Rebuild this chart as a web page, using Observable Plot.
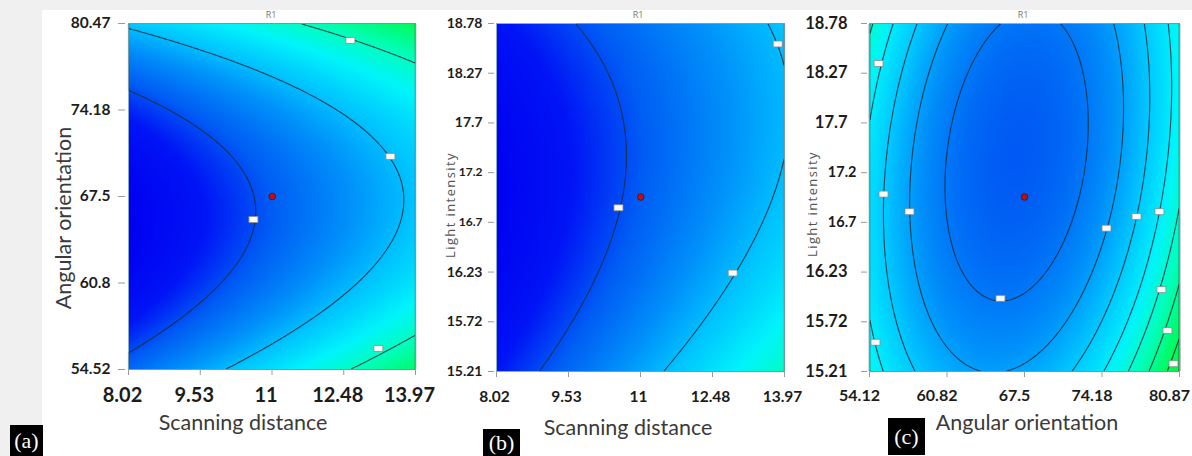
<!DOCTYPE html>
<html>
<head>
<meta charset="utf-8">
<script src="https://cdn.jsdelivr.net/npm/d3@7"></script>
<script src="https://cdn.jsdelivr.net/npm/@observablehq/plot@0.6"></script>
<style>
  html, body { margin: 0; padding: 0; }
  body { width: 1192px; height: 456px; position: relative; overflow: hidden; background: #ffffff; font-family: Lato, "Open Sans", sans-serif; }
  .bg { position: absolute; background: #f0f0f0; }
  .panel { position: absolute; top: 0; }
  .lbl { position: absolute; white-space: nowrap; text-align: center; }
  .tag { position: absolute; background: #000; color: #fff; font-family: "Liberation Serif", "DejaVu Serif", serif; font-size: 22px; display: flex; align-items: center; justify-content: center; }
</style>
</head>
<body>
<div class="bg" style="left:0;top:0;width:1192px;height:10px"></div>
<div class="bg" style="left:0;top:0;width:42px;height:456px"></div>
<div id="pa" class="panel" style="left:0px"></div>
<div id="pb" class="panel" style="left:420px"></div>
<div id="pc" class="panel" style="left:800px"></div>
<div id="texts"></div>
<script>
// ---------------- data ----------------
// axis tick labels (as printed on the chart)
const scanTicks   = ["8.02", "9.53", "11", "12.48", "13.97"];
const angleTicksA = ["54.52", "60.8", "67.5", "74.18", "80.47"];
const lightTicks  = ["15.21", "15.72", "16.23", "16.7", "17.2", "17.7", "18.27", "18.78"];
const angleTicksC = ["54.12", "60.82", "67.5", "74.18", "80.87"];
// tick labels printed in a narrower face on the light-intensity axes
const narrowLightTicks = ["16.7", "17.2"];

// quadratic response-surface model of R1 in coded units (A = scanning distance,
// B = angular orientation, C = light intensity), coefficients
const modelTerms = ["1", "A", "B", "C", "AB", "AC", "BC", "A2", "B2", "C2"];
const modelCoefs = [0.01, 0.639, 0.16, -0.16, -0.13, -0.139, -0.24, 0.004, 1.0, 0.305];

// contour levels of each panel
const levelsA = [-0.07, 0.60, 1.27];
const levelsB = [-0.07, 0.60, 1.27];
const levelsC = [0.19, 0.44, 0.69, 0.94, 1.19, 1.44, 1.69];

// design centre point of each panel
const centerA = [[11, 67.5]];
const centerB = [[11, 17.0]];
const centerC = [[67.5, 17.0]];

// contour label boxes (data coordinates)
const labelPtsA = [[12.62, 79.2], [13.45, 70.5], [10.61, 65.77], [13.20, 56.1]];
const labelPtsB = [[10.54, 16.89], [12.90, 16.22], [13.83, 18.57]];
const labelPtsC = [[54.90, 18.37], [55.33, 17.03], [57.57, 16.85], [65.42, 15.96], [74.57, 16.68],
                   [77.16, 16.80], [79.14, 16.85], [79.31, 16.05], [79.83, 15.63], [80.35, 15.29], [54.64, 15.51]];

const panelTitle = "R1";
const xTitles = ["Scanning distance", "Scanning distance", "Angular orientation"];
const yTitles = ["Angular orientation", "Light intensity", "Light intensity"];
const panelTags = ["(a)", "(b)", "(c)"];

// ---------------- helpers ----------------
function r1(A, B, C) {
  const [b0, bA, bB, bC, bAB, bAC, bBC, bAA, bBB, bCC] = modelCoefs;
  return b0 + bA * A + bB * B + bC * C + bAB * A * B + bAC * A * C + bBC * B * C + bAA * A * A + bBB * B * B + bCC * C * C;
}
const ends = (labels) => [+labels[0], +labels[labels.length - 1]];
const coded = (v, [lo, hi]) => (v - (lo + hi) / 2) / ((hi - lo) / 2);
const evenTicks = (labels) => { const [lo, hi] = ends(labels); return labels.map((_, i) => lo + i * (hi - lo) / (labels.length - 1)); };

const boxSymbol = { draw(ctx) { ctx.moveTo(-4.5, -3); ctx.lineTo(4.5, -3); ctx.lineTo(4.5, 3); ctx.lineTo(-4.5, 3); ctx.closePath(); } };

const colorScale = {
  type: "linear",
  domain: [-0.65, -0.3, 0.0, 0.35, 0.65, 1.0, 1.3, 1.65, 1.95],
  range: ["#0000f2", "#0014f6", "#005cf4", "#0090fa", "#00c4ff", "#00f4fa", "#00ffbc", "#00fa60", "#10f030"],
  interpolate: "rgb",
  clamp: true
};

function panel(o) {
  const xv = evenTicks(o.xTicks), yv = evenTicks(o.yTicks);
  const xd = ends(o.xTicks), yd = ends(o.yTicks);
  const xm = new Map(xv.map((v, i) => [v, o.xTicks[i]]));
  const ym = new Map(yv.map((v, i) => [v, o.yTicks[i]]));
  const narrow = o.narrow || [];
  const yWide = yv.filter(v => !narrow.includes(ym.get(v)));
  const yNarrow = yv.filter(v => narrow.includes(ym.get(v)));
  const value = (x, y) => o.f(coded(x, xd), coded(y, yd));
  const tickStyle = { stroke: "#9a9a9a", fill: "#1c1c1c", fontWeight: "bold", label: null };
  const marks = [
    Plot.raster({ fill: value, x1: xd[0], x2: xd[1], y1: yd[0], y2: yd[1], pixelSize: 1 }),
    Plot.contour({ value, x1: xd[0], x2: xd[1], y1: yd[0], y2: yd[1], thresholds: o.levels, fill: "none", stroke: "#1a2c38", strokeWidth: 1.1, strokeOpacity: 0.85, pixelSize: 1 }),
    Plot.frame({ stroke: "#8fb3b8", strokeWidth: 0.8 }),
    Plot.dot(o.labels, { x: d => d[0], y: d => d[1], symbol: boxSymbol, fill: "#fafafa", stroke: "#8a8a8a", strokeWidth: 0.8 }),
    Plot.dot(o.centers, { x: d => d[0], y: d => d[1], r: 3.3, fill: "#b5121b", stroke: "#5a0808", strokeWidth: 0.8 }),
    // x ticks, then x tick labels
    Plot.axisX(xv, { ...tickStyle, tickFormat: () => "", tickSize: 6 }),
    Plot.axisX(xv, { ...tickStyle, tickFormat: d => xm.get(d), tickSize: 0, tickPadding: 6 + o.xPad, dx: o.xdx, fontSize: o.xFont }),
    // y ticks, then y tick labels
    Plot.axisY(yv, { ...tickStyle, tickFormat: () => "", tickSize: o.yTick, dx: o.ydx }),
    Plot.axisY(yWide, { ...tickStyle, tickFormat: d => ym.get(d), tickSize: 0, tickPadding: o.yTick + o.yPad, dx: o.ydx, fontSize: o.yFont })
  ];
  if (yNarrow.length) {
    marks.push(Plot.axisY(yNarrow, { ...tickStyle, tickFormat: d => ym.get(d), tickSize: 0, tickPadding: o.yTick + o.nPad, dx: o.ydx, fontSize: o.nFont }));
  }
  return Plot.plot({
    width: o.width, height: 456,
    marginLeft: o.ml, marginRight: o.mr, marginTop: 23, marginBottom: o.mb,
    x: { domain: xd }, y: { domain: yd },
    color: colorScale,
    style: { background: "transparent", overflow: "visible", fontFamily: "Lato" },
    marks
  });
}

document.getElementById("pa").append(panel({
  xTicks: scanTicks, yTicks: angleTicksA, f: (a, b) => r1(a, b, 0), levels: levelsA,
  centers: centerA, labels: labelPtsA, width: 420, ml: 128, mr: 5, mb: 87,
  xFont: 20, xPad: 12, xdx: -6, yFont: 15.5, yPad: 8, yTick: 7, ydx: -3
}));
document.getElementById("pb").append(panel({
  xTicks: scanTicks, yTicks: lightTicks, f: (a, c) => r1(a, 0, c), levels: levelsB,
  centers: centerB, labels: labelPtsB, width: 380, ml: 76, mr: 16, mb: 85,
  xFont: 15.5, xPad: 13, xdx: -2, yFont: 14, yPad: 6, yTick: 6, ydx: -2,
  narrow: narrowLightTicks, nFont: 12, nPad: 6
}));
document.getElementById("pc").append(panel({
  xTicks: angleTicksC, yTicks: lightTicks, f: (b, c) => r1(0, b, c), levels: levelsC,
  centers: centerC, labels: labelPtsC, width: 392, ml: 69, mr: 13, mb: 85,
  xFont: 16, xPad: 12, xdx: -10, yFont: 16.5, yPad: 14, yTick: 6, ydx: -2,
  narrow: narrowLightTicks, nFont: 14.5, nPad: 5
}));

// ---------------- text ----------------
const texts = document.getElementById("texts");
function addText(str, cx, cy, css, rotate) {
  const d = document.createElement("div");
  d.className = "lbl";
  d.textContent = str;
  d.style.cssText += `left:${cx - 150}px;top:${cy - 15}px;width:300px;height:30px;line-height:30px;` + css + (rotate ? "transform:rotate(-90deg);" : "");
  texts.append(d);
}
const bigTitle = "font-family:Lato;font-size:21.5px;color:#3a3a3a;";
const smallTitle = "font-family:'Open Sans';font-size:13px;letter-spacing:1.4px;color:#555;";
const r1Css = "font-family:'Open Sans';font-size:9px;color:#777;";
addText(panelTitle, 271, 15, r1Css);
addText(panelTitle, 638, 15, r1Css);
addText(panelTitle, 1023, 15, r1Css);
addText(xTitles[0], 243, 421.7, bigTitle);
addText(xTitles[1], 628, 426.7, bigTitle);
addText(xTitles[2], 1027, 421.7, bigTitle);
addText(yTitles[0], 63, 218, bigTitle, true);
addText(yTitles[1], 450, 205, smallTitle, true);
addText(yTitles[2], 812, 204, smallTitle, true);

const tagBoxes = [[10, 425, 33, 31], [483, 429, 37, 27], [888, 418, 37, 37]];
panelTags.forEach((t, i) => {
  const [l, tp, w, h] = tagBoxes[i];
  const d = document.createElement("div");
  d.className = "tag";
  d.textContent = t;
  d.style.cssText += `left:${l}px;top:${tp}px;width:${w}px;height:${h}px;`;
  texts.append(d);
});
</script>
</body>
</html>
